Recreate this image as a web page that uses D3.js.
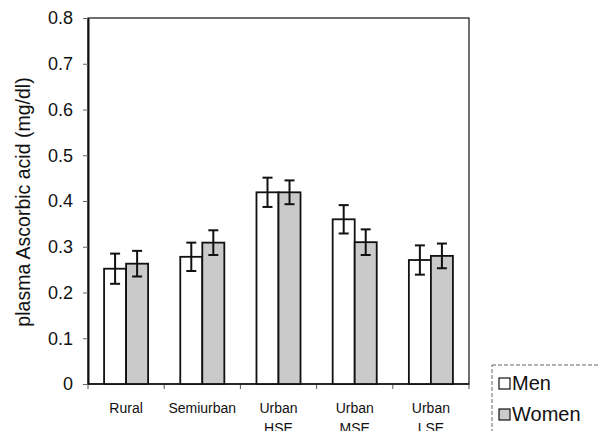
<!DOCTYPE html>
<html>
<head>
	<meta charset="utf-8">
	<title>plasma ascorbic acid</title>
	<script src="https://d3js.org/d3.v7.min.js"></script>
	<style>
		body { margin: 0; background: #fff; }
		text { font-family: "Liberation Sans", Arial, sans-serif; fill: #111; }
	</style>
</head>
<body>
	<div class="chart"></div>

	<script type="text/javascript">

		// data
		const categories = ['Rural', 'Semiurban', 'Urban HSE', 'Urban MSE', 'Urban LSE']
		const series = ['Men', 'Women']
		const menValues = [0.252, 0.278, 0.419, 0.360, 0.271]
		const womenValues = [0.263, 0.309, 0.419, 0.310, 0.280]
		const menErrors = [0.033, 0.031, 0.032, 0.031, 0.032]
		const womenErrors = [0.028, 0.027, 0.026, 0.028, 0.027]
		const yTicks = [0, 0.1, 0.2, 0.3, 0.4, 0.5, 0.6, 0.7, 0.8]

		const width = 600
		const height = 431
		// plot box (window.top is reserved, so keep these names)
		const plotL = 88, plotT = 18, plotR = 469, plotB = 384

		const svg = d3
			.select('.chart')
			.append('svg')
			.attr('width', width)
			.attr('height', height)

		/**
		 * scales
		 */
		const y = d3.scaleLinear().domain([0, 0.8]).range([plotB, plotT])
		const x = d3.scaleBand().domain(categories).range([plotL, plotR]).padding(0)
		const xSub = d3.scaleBand().domain(series).range([0, x.bandwidth()])
			.paddingInner(0).paddingOuter(0.73)
		const color = d3.scaleOrdinal().domain(series).range(['#ffffff', '#cacaca'])

		const rows = []
		categories.forEach((c, i) => {
			rows.push({ cat: c, s: 'Men', v: menValues[i], e: menErrors[i] })
			rows.push({ cat: c, s: 'Women', v: womenValues[i], e: womenErrors[i] })
		})

		/**
		 * frame + y axis
		 */
		svg.append('rect')
			.attr('x', plotL).attr('y', plotT)
			.attr('width', plotR - plotL).attr('height', plotB - plotT)
			.attr('fill', 'none')
			.attr('stroke', '#222')
			.attr('stroke-width', 1.3)

		const yAxis = svg.append('g')
			.attr('transform', `translate(${plotL},0)`)
			.call(d3.axisLeft(y).tickValues(yTicks)
				.tickFormat(d => d === 0 ? '0' : d.toFixed(1))
				.tickSizeInner(5).tickSizeOuter(0).tickPadding(10))
		yAxis.select('.domain').attr('stroke', '#111').attr('stroke-width', 2)
		yAxis.selectAll('.tick line').attr('stroke', '#666')
		yAxis.selectAll('text')
			.style('font-family', '"Liberation Sans", Arial, sans-serif')
			.style('font-size', '18px')
			.attr('fill', '#111')

		svg.append('text')
			.attr('transform', 'translate(30,202) rotate(-90)')
			.attr('text-anchor', 'middle')
			.style('font-size', '19.5px')
			.text('plasma Ascorbic acid (mg/dl)')

		/**
		 * x axis: boundary ticks and labels
		 */
		const bounds = categories.map(c => x(c)).concat([x(categories[categories.length - 1]) + x.bandwidth()])
		svg.append('g')
			.selectAll('line')
			.data(bounds)
			.join('line')
			.attr('x1', d => d).attr('x2', d => d)
			.attr('y1', plotB).attr('y2', plotB + 5)
			.attr('stroke', '#555')

		svg.append('line')
			.attr('x1', plotL).attr('x2', plotR)
			.attr('y1', plotB).attr('y2', plotB)
			.attr('stroke', '#111').attr('stroke-width', 1.6)

		const labels = svg.append('g')
			.selectAll('text')
			.data(categories)
			.join('text')
			.attr('text-anchor', 'middle')
			.style('font-size', '14px')
		labels.each(function (d) {
			const parts = d.split(' ')
			d3.select(this).selectAll('tspan')
				.data(parts)
				.join('tspan')
				.attr('x', x(d) + x.bandwidth() / 2)
				.attr('y', (p, i) => 413 + i * 20)
				.text(p => p)
		})

		/**
		 * bars and error bars
		 */
		const groups = svg.append('g')
			.selectAll('g')
			.data(rows)
			.join('g')
			.attr('transform', d => `translate(${x(d.cat) + xSub(d.s)},0)`)

		groups.append('rect')
			.attr('x', 0)
			.attr('y', d => y(d.v))
			.attr('width', xSub.bandwidth())
			.attr('height', d => y(0) - y(d.v))
			.attr('fill', d => color(d.s))
			.attr('stroke', '#111')
			.attr('stroke-width', 1.8)

		const cx = xSub.bandwidth() / 2
		groups.append('line')
			.attr('x1', cx).attr('x2', cx)
			.attr('y1', d => y(d.v + d.e)).attr('y2', d => y(d.v - d.e))
			.attr('stroke', '#111').attr('stroke-width', 2)
		groups.append('line')
			.attr('x1', cx - 5).attr('x2', cx + 5)
			.attr('y1', d => y(d.v + d.e)).attr('y2', d => y(d.v + d.e))
			.attr('stroke', '#111').attr('stroke-width', 2)
		groups.append('line')
			.attr('x1', cx - 5).attr('x2', cx + 5)
			.attr('y1', d => y(d.v - d.e)).attr('y2', d => y(d.v - d.e))
			.attr('stroke', '#111').attr('stroke-width', 2)

		/**
		 * legend
		 */
		const legend = svg.append('g').attr('transform', 'translate(492,365)')
		legend.append('rect')
			.attr('width', 130).attr('height', 90)
			.attr('fill', 'none')
			.attr('stroke', '#666')
			.attr('stroke-dasharray', '4,2')

		const item = legend.selectAll('.item')
			.data(series)
			.join('g')
			.attr('class', 'item')
			.attr('transform', (d, i) => `translate(7,${13 + i * 31})`)
		item.append('rect')
			.attr('width', 11).attr('height', 11)
			.attr('fill', d => color(d))
			.attr('stroke', '#111')
			.attr('stroke-width', 1.2)
		item.append('text')
			.attr('x', 13).attr('y', 12)
			.style('font-size', '20px')
			.text(d => d)

	</script>
</body>
</html>
